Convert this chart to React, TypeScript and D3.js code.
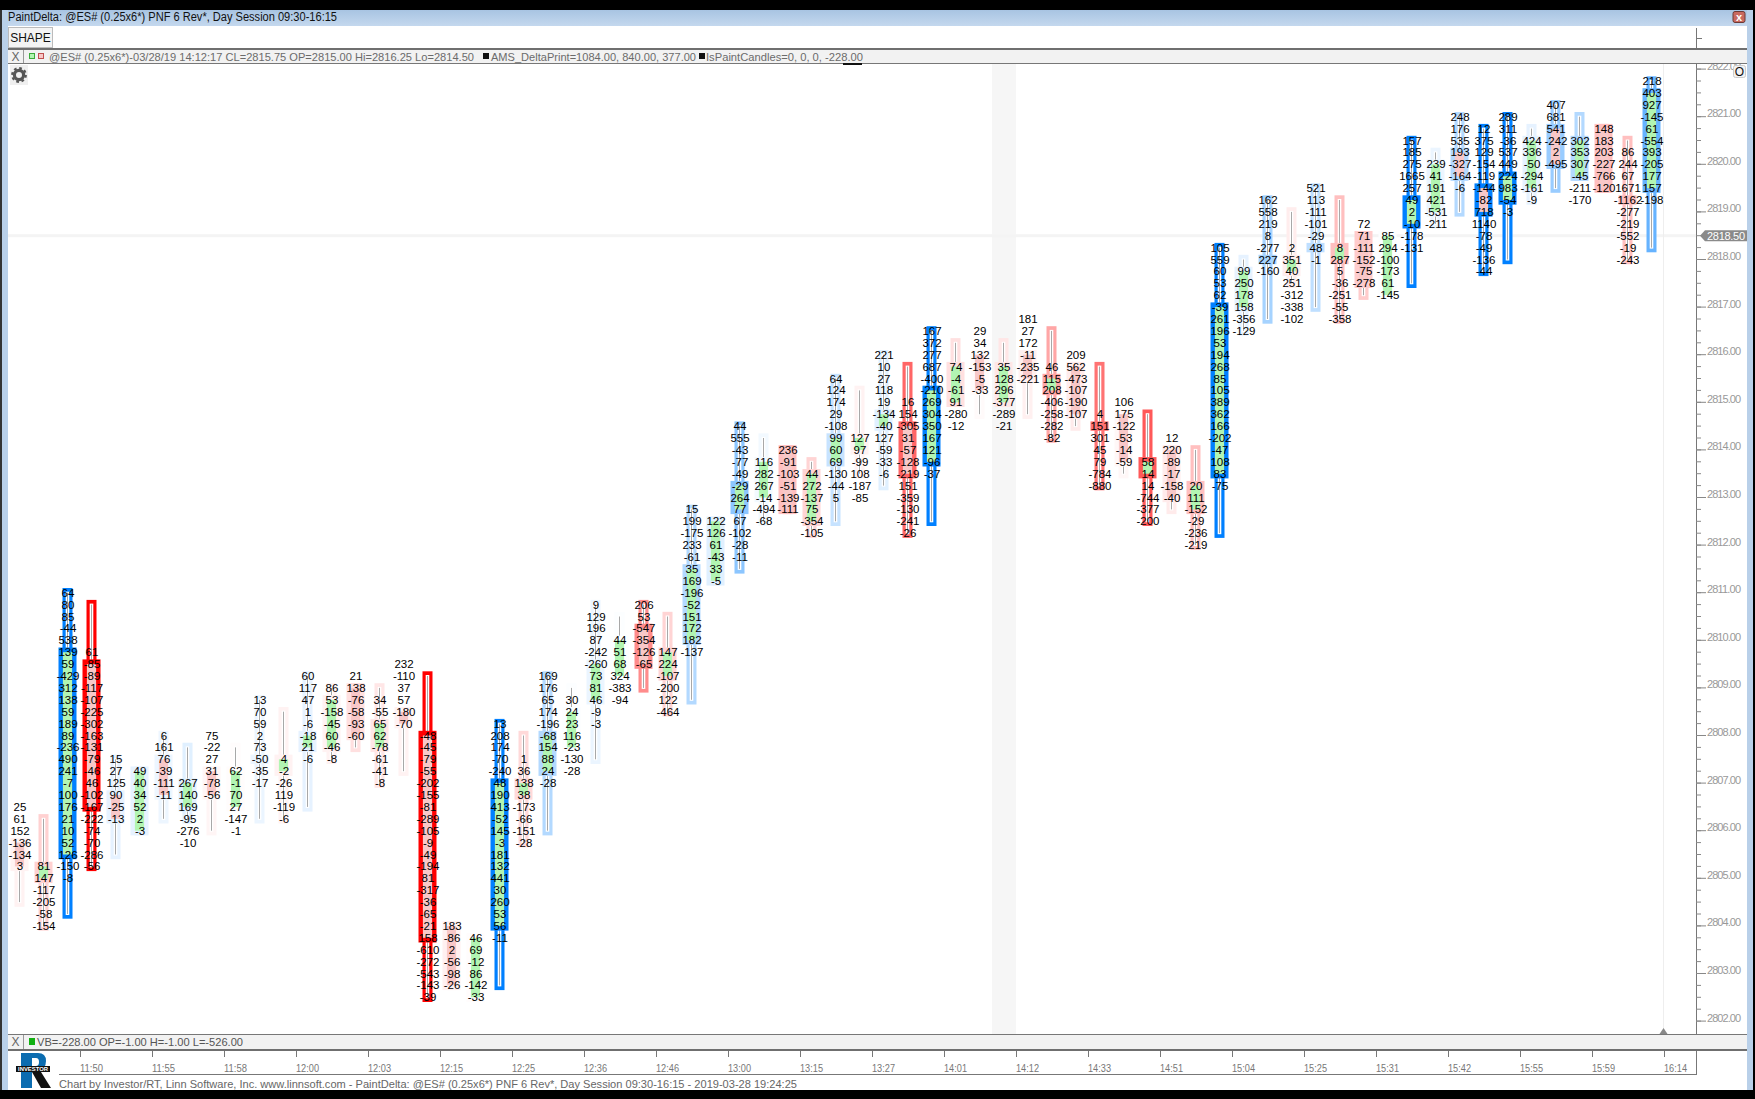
import React from "react";
import * as d3 from "d3";

// Price grid: row 0 is the top printed price, each row one 0.25 tick lower
const TOP_PRICE = 2821.75;
const TICK = 0.25;

const cellValues: number[][] = [
  [25,61,152,-136,-134,3],
  [81,147,-117,-205,-58,-154],
  [64,80,85,-44,538,139,59,-429,312,138,59,189,89,-236,490,241,-7,100,176,21,10,52,126,-150,-8],
  [61,-85,-89,-117,-107,-225,-302,-163,-131,-79,-46,46,-102,-167,-222,-74,-70,-286,-56],
  [15,27,125,90,-25,-13],
  [49,40,34,52,2,-3],
  [6,161,76,-39,-111,-11],
  [267,140,169,-95,-276,-10],
  [75,-22,27,31,-78,-56],
  [62,-1,70,27,-147,-1],
  [13,70,59,2,73,-50,-35,-17],
  [4,-2,-26,119,-119,-6],
  [60,117,47,1,-6,-18,21,-6],
  [86,53,-158,-45,60,-46,-8],
  [21,138,-76,-58,-93,-60],
  [34,-55,65,62,-78,-61,-41,-8],
  [232,-110,37,57,-180,-70],
  [-48,-45,-79,-55,-202,-155,-81,-289,-105,-9,-49,-194,81,-317,-36,-65,-21,158,-610,-272,-543,-143,-39],
  [183,-86,2,-56,-98,-26],
  [46,69,-12,86,-142,-33],
  [13,208,174,-70,-240,48,190,413,-52,145,-3,181,132,441,30,260,53,56,-11],
  [1,36,138,38,-173,-66,-151,-28],
  [169,176,65,174,-196,-68,154,88,24,-28],
  [30,24,23,116,-23,-130,-28],
  [9,129,196,87,-242,-260,73,81,46,-9,-3],
  [44,51,68,324,-383,-94],
  [206,53,-547,-354,-126,-65],
  [147,224,-107,-200,122,-464],
  [15,199,-175,233,-61,35,169,-196,-52,151,172,182,-137],
  [122,126,61,-43,33,-5],
  [44,555,-43,-77,-49,-29,264,77,67,-102,-28,-11],
  [116,282,267,-14,-494,-68],
  [236,-91,-103,-51,-139,-111],
  [44,272,-137,75,-354,-105],
  [64,124,174,29,-108,99,60,69,-130,-44,5],
  [127,97,-99,108,-187,-85],
  [221,10,27,118,19,-134,-40,127,-59,-33,-6],
  [16,154,-305,31,-57,-128,-219,151,-359,-130,-241,-26],
  [167,372,277,687,-400,-210,269,304,350,167,121,-96,-37],
  [74,-4,-61,91,-280,-12],
  [29,34,132,-153,-5,-33],
  [35,128,296,-377,-289,-21],
  [181,27,172,-11,-235,-221],
  [46,115,208,-406,-258,-282,-82],
  [209,562,-473,-107,-190,-107],
  [4,151,301,45,79,-784,-880],
  [106,175,-122,-53,-14,-59],
  [58,14,14,-744,-377,-200],
  [12,220,-89,-17,-158,-40],
  [20,111,-152,-29,-236,-219],
  [105,559,60,53,62,-39,261,196,53,194,268,85,105,389,362,166,-202,-47,108,83,-75],
  [99,250,178,158,-356,-129],
  [162,558,219,8,-277,227,-160],
  [2,351,40,251,-312,-338,-102],
  [521,113,-111,-101,-29,48,-1],
  [8,287,5,-36,-251,-55,-358],
  [72,71,-111,-152,-75,-278],
  [85,294,-100,-173,61,-145],
  [157,185,275,1665,257,49,2,-10,-178,-131],
  [239,41,191,421,-531,-211],
  [248,176,535,193,-327,-164,-6],
  [12,375,129,-154,-119,-144,-82,718,1140,-78,-49,-136,-44],
  [289,311,-36,537,449,224,983,-54,-3],
  [424,336,-50,-294,-161,-9],
  [407,681,541,-242,2,-495],
  [302,353,307,-45,-211,-170],
  [148,183,203,-227,-766,-120],
  [86,244,67,1671,-1162,-277,-219,-552,-19,-243],
  [218,403,927,-145,61,-554,393,-205,177,157,-198],
];

const firstRow = [61,66,43,48,57,58,55,59,55,58,52,57,50,51,50,52,49,55,71,72,54,57,50,52,44,47,44,48,36,37,29,32,31,33,25,30,23,27,21,24,21,24,20,24,23,28,27,32,30,34,14,16,10,14,9,14,12,13,5,7,3,4,3,5,2,5,4,6,0];
const wickHigh = [64,62,43,44,57,58,55,56,58,56,52,53,50,51,51,51,53,50,71,72,54,55,50,51,44,45,44,45,36,37,29,30,31,32,25,26,23,24,21,22,23,22,23,21,24,24,28,28,31,31,14,15,10,11,9,10,13,13,5,6,3,4,3,4,2,3,4,5,0];
const wickLow = [69,71,70,66,65,63,62,62,63,61,62,62,61,57,56,59,58,77,76,77,76,64,63,56,57,50,51,53,52,42,41,37,36,38,37,33,34,38,37,27,28,27,28,30,29,34,33,37,36,39,38,21,20,17,19,20,18,18,17,12,11,16,15,10,9,8,9,15,14];
const bodyTop = [64,66,48,49,60,58,57,59,58,58,57,57,55,52,51,54,53,55,71,72,59,59,55,53,49,47,46,48,41,37,34,32,31,33,30,30,28,29,26,24,23,24,23,25,24,29,28,32,31,34,19,16,15,15,14,14,13,13,10,7,6,9,8,5,4,5,4,10,1];
const bodyBottom = [66,67,65,61,62,63,60,61,60,61,57,58,56,56,55,56,54,72,76,77,71,60,58,56,52,50,49,50,47,42,36,35,36,37,32,31,29,33,32,27,26,27,25,26,28,29,32,33,35,36,33,19,15,16,14,15,17,18,12,11,8,11,10,9,7,8,9,10,9];
const bodyUp = [0,1,1,0,0,1,0,1,0,1,1,1,1,1,0,1,0,0,0,1,1,1,1,1,1,1,0,1,1,1,1,1,0,1,1,1,1,0,1,1,0,1,0,1,0,0,0,1,0,1,1,1,1,1,1,1,0,1,1,1,0,0,1,1,0,1,0,0,1];
// Delta paint strength: positive paints blue, negative paints red
const boxPaint = [-.05,-.18,1,-1,.1,.1,.07,.12,-.04,-.01,.08,-.05,.1,-.05,-.12,-.1,-.05,-1,-.06,-.01,1,-.15,.3,.01,.08,.01,-.45,-.17,.3,.12,.45,.05,-.25,-.17,.22,-.05,.12,-.6,1,-.12,-.02,-.1,-.06,-.35,-.08,-.55,-.03,-.65,-.08,-.25,1,.1,.35,-.07,.25,-.25,-.2,.01,1,.08,.3,1,1,.1,.4,.3,-.25,-.25,.6];

const timeLabels = ["11:50","11:55","11:58","12:00","12:03","12:15","12:25","12:36","12:46","13:00","13:15","13:27","14:01","14:12","14:33","14:51","15:04","15:25","15:31","15:42","15:55","15:59","16:14"];
const priceLevels = d3.range(2802, 2823);
const minorLevels = d3.range(2802, 2822.01, 0.25);
const LAST_PRICE = 2818.5;
const SHADED_BAR = 41;
const CURSOR_BAR = 68.48;

const x = d3.scaleLinear().domain([0, 68]).range([20, 1652]);
const y = d3.scaleLinear().domain([2802, 2822]).range([1021.1, 69.1]);
const rowY = (r: number) => y(TOP_PRICE - r * TICK);
const paintBlue = d3.interpolateRgb("#ffffff", "#0080ff");
const paintRed = d3.interpolateRgb("#ffffff", "#ff0000");
const paint = (v: number) => (v >= 0 ? paintBlue(v) : paintRed(-v));

const UI = "'Liberation Sans', Arial, sans-serif";
const GREEN = "#b2f5b2";
const PINK = "#f8c8c8";

function Bar({ i }: { i: number }) {
  const cx = x(i) - 0.5;
  const col = paint(boxPaint[i]);
  const hi = rowY(wickHigh[i]);
  const lo = rowY(wickLow[i]);
  const top = rowY(bodyTop[i]);
  const bot = rowY(bodyBottom[i]);
  return (
    <g>
      <rect x={cx - 5} y={hi - 4.7} width={10} height={lo - hi + 9.4} fill={col} />
      <rect x={cx - 1.8} y={hi - 1} width={3.6} height={lo - hi + 2} fill="#fff" />
      <line x1={cx} x2={cx} y1={hi} y2={lo} stroke="#a8a8a8" strokeWidth={1} />
      <rect x={cx - 9} y={top - 4.7} width={18} height={bot - top + 9.4} fill={col} />
      <rect x={cx - 4.6} y={top} width={9.2} height={bot - top} fill={bodyUp[i] ? GREEN : PINK} />
    </g>
  );
}

function Gear({ cx, cy }: { cx: number; cy: number }) {
  return (
    <g>
      <rect x={cx - 9} y={cy - 10} width={18} height={20} fill="#efefef" />
      <circle cx={cx} cy={cy} r={4.6} fill="none" stroke="#555" strokeWidth={3.2} />
      <circle cx={cx} cy={cy} r={6.8} fill="none" stroke="#555" strokeWidth={2.2} strokeDasharray="2.7 2.64" />
    </g>
  );
}

export default function App() {
  return (
    <svg width={1755} height={1099} viewBox="0 0 1755 1099" style={{ position: "fixed", left: 0, top: 0, background: "#fff" }}>
      <defs>
        <linearGradient id="title" x1="0" x2="0" y1="0" y2="1">
          <stop offset="0" stopColor="#a8c4e2" />
          <stop offset="1" stopColor="#c4d8ee" />
        </linearGradient>
        <clipPath id="plot"><rect x={8} y={64} width={1739} height={970} /></clipPath>
      </defs>

      {/* window frame */}
      <rect x={0} y={0} width={1755} height={10} fill="#000" />
      <rect x={0} y={10} width={1755} height={16} fill="url(#title)" />
      <rect x={0} y={10} width={8} height={1080} fill="#b9d0e9" />
      <rect x={0} y={10} width={2} height={1080} fill="#333" />
      <rect x={1747} y={10} width={6} height={1080} fill="#b9d0e9" />
      <rect x={1753} y={0} width={2} height={1099} fill="#000" />
      <rect x={0} y={1090} width={1755} height={9} fill="#000" />
      <text x={8} y={21} fontFamily={UI} fontSize={12} fill="#111" textLength={329} lengthAdjust="spacingAndGlyphs">PaintDelta: @ES# (0.25x6*) PNF 6 Rev*, Day Session 09:30-16:15</text>
      <rect x={1733} y={11.5} width={12} height={11} rx={2} fill="#c96a60" stroke="#6b3a36" />
      <text x={1739} y={21} textAnchor="middle" fontFamily={UI} fontSize={11} fontWeight="bold" fill="#fff">x</text>

      {/* toolbar */}
      <rect x={8.5} y={27.5} width={44} height={20} fill="#f4f4f4" stroke="#bbb" />
      <text x={30.5} y={42} textAnchor="middle" fontFamily={UI} fontSize={12} fill="#111">SHAPE</text>
      <line x1={1696.5} x2={1696.5} y1={28} y2={48} stroke="#777" />
      <line x1={1696} x2={1702} y1={38.5} y2={38.5} stroke="#777" />

      {/* plot background */}
      <rect x={x(SHADED_BAR) - 12} y={64} width={24} height={970} fill="#f6f6f6" />
      <rect x={8} y={y(LAST_PRICE) - 1.5} width={1688} height={3} fill="#f4f4f4" />
      <line x1={x(CURSOR_BAR)} x2={x(CURSOR_BAR)} y1={64} y2={1034} stroke="#eeeeee" />
      <path d={`M${x(CURSOR_BAR)} 1028 L${x(CURSOR_BAR) + 4} 1034 L${x(CURSOR_BAR) - 4} 1034 Z`} fill="#888" />

      {/* bars */}
      {cellValues.map((_, i) => <Bar key={i} i={i} />)}
      {cellValues.map((vals, i) => (
        <g key={i} fontFamily={UI} fontSize={11.5} fill="#000" textAnchor="middle">
          {vals.map((v, k) => (
            <text key={k} x={x(i)} y={rowY(firstRow[i] + k)} dominantBaseline="central">{v}</text>
          ))}
        </g>
      ))}

      {/* price axis */}
      <line x1={1696.5} x2={1696.5} y1={64} y2={1034} stroke="#777" />
      <g clipPath="url(#plot)">
        {minorLevels.map((p) => (
          <line key={p} x1={1696} x2={1701} y1={y(p)} y2={y(p)} stroke="#888" />
        ))}
        {priceLevels.map((p) => (
          <g key={p}>
            <line x1={1696} x2={1706} y1={y(p)} y2={y(p)} stroke="#888" />
            <text x={1707} y={y(p) - 3.5} dominantBaseline="central" fontFamily={UI} fontSize={11} fill="#999" textLength={34} lengthAdjust="spacing">{p.toFixed(2)}</text>
          </g>
        ))}
      </g>
      <path d={`M1700 ${y(LAST_PRICE)} L1705 ${y(LAST_PRICE) - 5.5} H1747 V${y(LAST_PRICE) + 5.5} H1705 Z`} fill="#8a8a8a" />
      <text x={1707} y={y(LAST_PRICE)} dominantBaseline="central" fontFamily={UI} fontSize={11} fill="#fff" textLength={38}>{LAST_PRICE.toFixed(2)}</text>

      {/* gear and O button */}
      <Gear cx={19} cy={75} />
      <rect x={1733.5} y={65.5} width={12} height={12} rx={2} fill="#f2f2f2" stroke="#ccc" />
      <text x={1739.5} y={76} textAnchor="middle" fontFamily={UI} fontSize={12} fill="#111">O</text>

      {/* legend bar */}
      <rect x={8} y={48} width={1739} height={16} fill="#f2f2f2" />
      <rect x={8} y={48} width={1739} height={2} fill="#6f6f6f" />
      <rect x={8} y={63} width={1739} height={1} fill="#777" />
      <line x1={23.5} x2={23.5} y1={50} y2={63} stroke="#999" />
      <text x={15.5} y={61} textAnchor="middle" fontFamily={UI} fontSize={12} fill="#666">X</text>
      <rect x={29.5} y={53.5} width={5} height={5} fill="#b2f5b2" stroke="#3cab3c" />
      <rect x={38.5} y={53.5} width={5} height={5} fill="#f8c8c8" stroke="#c05050" />
      <text x={49} y={61} fontFamily={UI} fontSize={11} fill="#6b6b6b" textLength={425} lengthAdjust="spacingAndGlyphs">@ES# (0.25x6*)-03/28/19 14:12:17 CL=2815.75 OP=2815.00 Hi=2816.25 Lo=2814.50</text>
      <rect x={483} y={53} width={6} height={6} fill="#111" />
      <text x={491} y={61} fontFamily={UI} fontSize={11} fill="#6b6b6b" textLength={205} lengthAdjust="spacingAndGlyphs">AMS_DeltaPrint=1084.00, 840.00, 377.00</text>
      <rect x={699} y={53} width={6} height={6} fill="#111" />
      <text x={706} y={61} fontFamily={UI} fontSize={11} fill="#6b6b6b" textLength={157} lengthAdjust="spacingAndGlyphs">IsPaintCandles=0, 0, 0, -228.00</text>
      <rect x={843} y={63} width={19} height={2} fill="#111" />

      {/* lower panel bar */}
      <rect x={8} y={1034} width={1739} height={16} fill="#f2f2f2" />
      <rect x={8} y={1034} width={1739} height={1} fill="#777" />
      <rect x={8} y={1049} width={1739} height={2} fill="#6f6f6f" />
      <line x1={23.5} x2={23.5} y1={1035} y2={1049} stroke="#999" />
      <text x={15.5} y={1046} textAnchor="middle" fontFamily={UI} fontSize={12} fill="#666">X</text>
      <rect x={29} y={1038} width={6} height={7} fill="#12b012" />
      <text x={37} y={1046} fontFamily={UI} fontSize={11} fill="#555" textLength={206} lengthAdjust="spacingAndGlyphs">VB=-228.00 OP=-1.00 H=-1.00 L=-526.00</text>

      {/* time axis */}
      {timeLabels.map((t, k) => {
        const tx = x(3 + 3 * k) - 12;
        return (
          <g key={t + k}>
            <line x1={tx + 0.5} x2={tx + 0.5} y1={1051} y2={1057} stroke="#777" />
            <text x={tx} y={1068} dominantBaseline="central" fontFamily={UI} fontSize={11} fill="#777" textLength={23} lengthAdjust="spacingAndGlyphs">{t}</text>
          </g>
        );
      })}
      <line x1={1696.5} x2={1696.5} y1={1051} y2={1074} stroke="#777" />
      <line x1={59} x2={1697} y1={1074.5} y2={1074.5} stroke="#777" />
      <text x={59} y={1084} dominantBaseline="central" fontFamily={UI} fontSize={11} fill="#666" textLength={738} lengthAdjust="spacingAndGlyphs">Chart by Investor/RT, Linn Software, Inc. www.linnsoft.com - PaintDelta: @ES# (0.25x6*) PNF 6 Rev*, Day Session 09:30-16:15 - 2019-03-28 19:24:25</text>

      {/* logo */}
      <g>
        <path d="M21 1053 H38 Q46 1053 46 1061 Q46 1069 38 1071 H32 V1088 H21 Z M32 1058 V1066 H36 Q39 1066 39 1062 Q39 1058 36 1058 Z" fillRule="evenodd" fill="#0b6cb0" />
        <path d="M32 1072 H41 L51 1088 H41 Z" fill="#111" />
        <rect x={16} y={1066} width={34} height={6} fill="#111" />
        <text x={33} y={1069} dominantBaseline="central" textAnchor="middle" fontFamily={UI} fontSize={5.5} fontWeight="bold" fill="#fff" textLength={30} lengthAdjust="spacingAndGlyphs">INVESTOR</text>
      </g>
    </svg>
  );
}
